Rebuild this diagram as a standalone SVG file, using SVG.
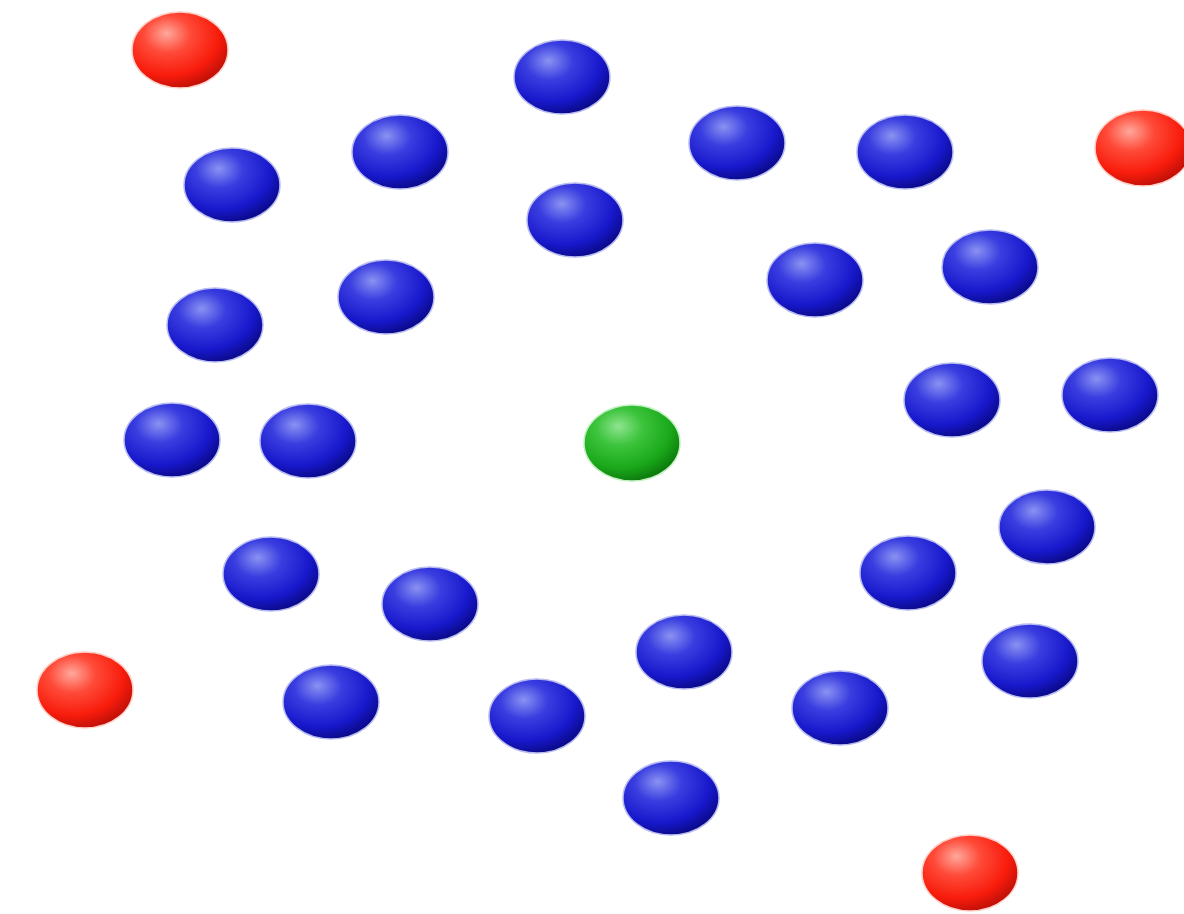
<svg xmlns="http://www.w3.org/2000/svg" width="1184" height="914" viewBox="0 0 1184 914">
<defs>
<radialGradient id="gb" cx="0.38" cy="0.32" r="0.7" fx="0.36" fy="0.28">
<stop offset="0" stop-color="#8a92f2"/>
<stop offset="0.35" stop-color="#3a3ee0"/>
<stop offset="0.75" stop-color="#1818cc"/>
<stop offset="1" stop-color="#0a0a8a"/>
</radialGradient>
<radialGradient id="gg" cx="0.38" cy="0.32" r="0.7" fx="0.36" fy="0.28">
<stop offset="0" stop-color="#8ee48e"/>
<stop offset="0.35" stop-color="#3cc43c"/>
<stop offset="0.75" stop-color="#1aa81a"/>
<stop offset="1" stop-color="#0c7a0c"/>
</radialGradient>
<radialGradient id="gr" cx="0.38" cy="0.32" r="0.7" fx="0.36" fy="0.28">
<stop offset="0" stop-color="#ffa89c"/>
<stop offset="0.35" stop-color="#ff4a38"/>
<stop offset="0.75" stop-color="#f81c0c"/>
<stop offset="1" stop-color="#c01008"/>
</radialGradient>
</defs>
<style>
.b{fill:url(#gb);stroke:#b8bcf0;stroke-width:1.5}
.g{fill:url(#gg);stroke:#c0f0c0;stroke-width:1.5}
.r{fill:url(#gr);stroke:#ffd0c8;stroke-width:1.5}
</style>
<rect width="1184" height="914" fill="#ffffff"/>
<g id="red">
<ellipse id="r1" class="r" cx="180" cy="50" rx="48" ry="38"/>
<ellipse id="r2" class="r" cx="1143" cy="148" rx="48" ry="38"/>
<ellipse id="r3" class="r" cx="85" cy="690" rx="48" ry="38"/>
<ellipse id="r4" class="r" cx="970" cy="873" rx="48" ry="38"/>
</g>
<g id="green">
<ellipse id="g1" class="g" cx="632" cy="443" rx="48" ry="38"/>
</g>
<g id="blue">
<ellipse class="b" cx="562" cy="77" rx="48" ry="37"/>
<ellipse class="b" cx="400" cy="152" rx="48" ry="37"/>
<ellipse class="b" cx="232" cy="185" rx="48" ry="37"/>
<ellipse class="b" cx="575" cy="220" rx="48" ry="37"/>
<ellipse class="b" cx="737" cy="143" rx="48" ry="37"/>
<ellipse class="b" cx="905" cy="152" rx="48" ry="37"/>
<ellipse class="b" cx="815" cy="280" rx="48" ry="37"/>
<ellipse class="b" cx="990" cy="267" rx="48" ry="37"/>
<ellipse class="b" cx="215" cy="325" rx="48" ry="37"/>
<ellipse class="b" cx="386" cy="297" rx="48" ry="37"/>
<ellipse class="b" cx="172" cy="440" rx="48" ry="37"/>
<ellipse class="b" cx="308" cy="441" rx="48" ry="37"/>
<ellipse class="b" cx="952" cy="400" rx="48" ry="37"/>
<ellipse class="b" cx="1110" cy="395" rx="48" ry="37"/>
<ellipse class="b" cx="1047" cy="527" rx="48" ry="37"/>
<ellipse class="b" cx="908" cy="573" rx="48" ry="37"/>
<ellipse class="b" cx="271" cy="574" rx="48" ry="37"/>
<ellipse class="b" cx="430" cy="604" rx="48" ry="37"/>
<ellipse class="b" cx="684" cy="652" rx="48" ry="37"/>
<ellipse class="b" cx="1030" cy="661" rx="48" ry="37"/>
<ellipse class="b" cx="331" cy="702" rx="48" ry="37"/>
<ellipse class="b" cx="537" cy="716" rx="48" ry="37"/>
<ellipse class="b" cx="840" cy="708" rx="48" ry="37"/>
<ellipse class="b" cx="671" cy="798" rx="48" ry="37"/>
</g>
</svg>
